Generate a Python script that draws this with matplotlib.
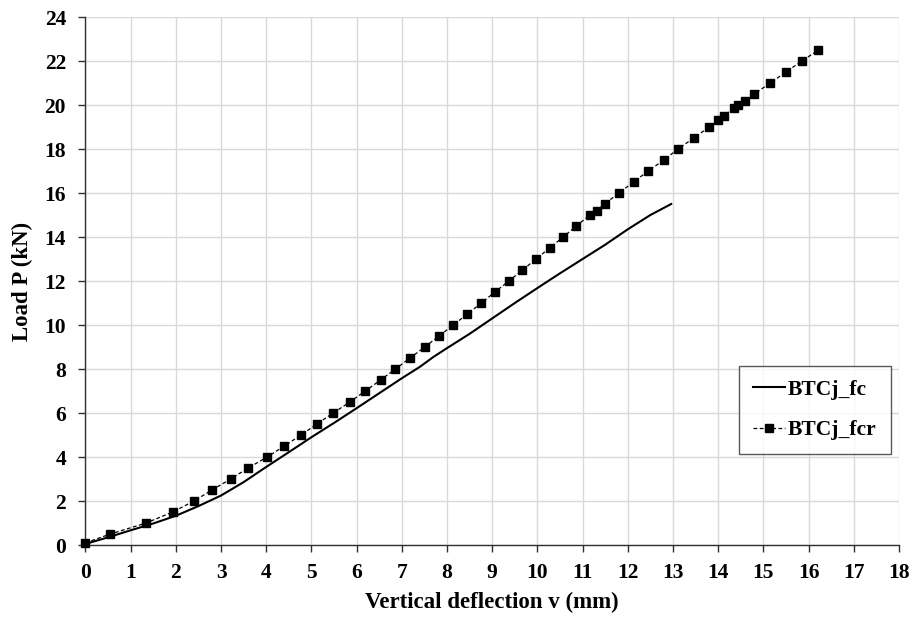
import matplotlib
matplotlib.use("Agg")
import matplotlib.pyplot as plt

# BTCj_fc (solid curve)
fc_x = [0, 0.5, 1, 1.5, 2, 2.5, 3, 3.5, 4, 4.5, 5, 5.5, 6, 6.5, 7, 7.4, 7.7,
        8, 8.5, 9, 9.5, 10, 10.5, 11, 11.5, 12, 12.5, 12.96]
fc_y = [0.05, 0.35, 0.67, 0.98, 1.33, 1.77, 2.25, 2.86, 3.55, 4.22, 4.9, 5.55,
        6.22, 6.9, 7.58, 8.1, 8.55, 8.95, 9.6, 10.3, 11.0, 11.68, 12.35, 13.0,
        13.65, 14.35, 15.0, 15.5]

# BTCj_fcr (dashed with square markers)
fcr_x = [0, 0.55, 1.34, 1.93, 2.4, 2.8, 3.21, 3.6, 4.02, 4.4, 4.77, 5.12,
         5.48, 5.85, 6.19, 6.53, 6.86, 7.18, 7.51, 7.82, 8.14, 8.45, 8.76, 9.06,
         9.37, 9.67, 9.97, 10.27, 10.57, 10.86, 11.16, 11.31, 11.49, 11.8,
         12.13, 12.45, 12.8, 13.11, 13.46, 13.8, 14.0, 14.12, 14.34, 14.45,
         14.6, 14.8, 15.15, 15.5, 15.85, 16.22]
fcr_y = [0.1, 0.5, 1.0, 1.5, 2.0, 2.5, 3.0, 3.5, 4.0, 4.5, 5.0, 5.5, 6.0, 6.5,
         7.0, 7.5, 8.0, 8.5, 9.0, 9.5, 10, 10.5, 11, 11.5, 12, 12.5, 13, 13.5,
         14, 14.5, 15, 15.2, 15.5, 16, 16.5, 17, 17.5, 18, 18.5, 19, 19.3, 19.5,
         19.85, 20, 20.2, 20.5, 21, 21.5, 22, 22.5]

x_ticks = list(range(0, 19))
y_ticks = list(range(0, 25, 2))

plt.rcParams['font.family'] = ['Liberation Serif', 'DejaVu Serif']
plt.rcParams['font.weight'] = 'bold'

fig = plt.figure(figsize=(9.14, 6.19), dpi=100)
ax = fig.add_axes([0.0935, 0.1195, 0.89, 0.853])

ax.plot(fc_x, fc_y, color='black', lw=1.5, label='BTCj_fc', zorder=3)
ax.plot(fcr_x, fcr_y, color='black', lw=0.9, linestyle=(0, (3, 2)),
        marker='s', markersize=5.5, label='BTCj_fcr', zorder=4, clip_on=False)

ax.set_xlim(0, 18)
ax.set_ylim(0, 24)
ax.set_xticks(x_ticks)
ax.set_yticks(y_ticks)
ax.grid(True, color='#d9d9d9', lw=1.0)
ax.set_axisbelow(True)
for s in ['top', 'right']:
    ax.spines[s].set_visible(False)
for s in ['left', 'bottom']:
    ax.spines[s].set_color('#303030')
    ax.spines[s].set_linewidth(1.0)
ax.tick_params(axis='both', direction='out', length=5, width=1.0,
               color='#303030', labelsize=15.5)
ax.tick_params(axis='y', pad=9)
ax.tick_params(axis='x', pad=8)
for lab in ax.get_xticklabels() + ax.get_yticklabels():
    lab.set_fontweight('bold')

ax.set_xlabel('Vertical deflection v (mm)', fontsize=16.5, fontweight='bold', labelpad=6)
ax.set_ylabel('Load P (kN)', fontsize=16.5, fontweight='bold', labelpad=8)

leg = ax.legend(loc='lower right', bbox_to_anchor=(0.99, 0.172),
                fontsize=15.5, frameon=True, fancybox=False, edgecolor='#303030',
                handlelength=1.5, handletextpad=0.15, labelspacing=0.95,
                borderpad=0.65, borderaxespad=0)
leg.get_frame().set_linewidth(1.0)
for t in leg.get_texts():
    t.set_fontweight('bold')

fig.savefig('out.png', dpi=100)
